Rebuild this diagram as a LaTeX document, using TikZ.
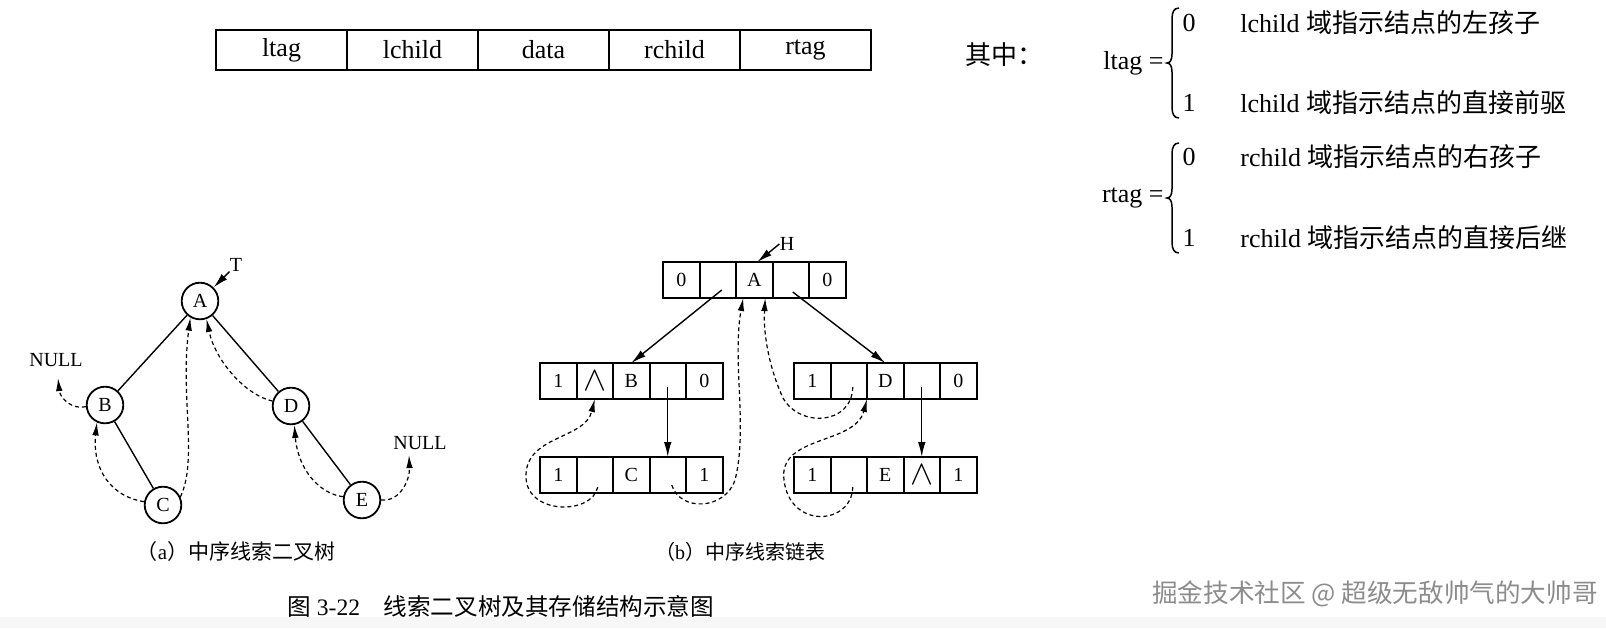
\documentclass[tikz,border=0pt]{standalone}
\usepackage{fontspec}
\usepackage{amsmath}
\setmainfont{Liberation Serif}
\newfontfamily\cjk{Noto Sans CJK SC}
\usetikzlibrary{positioning,calc}
\usetikzlibrary{arrows.meta}
\newcommand{\nullmark}{{\fontsize{17}{17}\selectfont$\wedge$}}
\tikzset{
  field/.style={draw,line width=1.2pt,outer sep=0pt,inner sep=0pt,minimum width=65.5pt,minimum height=20pt,font=\fontsize{13}{15}\selectfont},
  cell/.style={draw,line width=1pt,outer sep=0pt,inner sep=0pt,minimum width=18.25pt,minimum height=18pt,font=\fontsize{10}{12}\selectfont},
  tnode/.style={circle,draw,line width=0.9pt,minimum size=18.3pt,inner sep=0pt,font=\fontsize{10}{12}\selectfont},
  lab/.style={inner sep=0pt,font=\fontsize{10}{12}\selectfont},
  txt/.style={inner sep=0pt,font=\fontsize{13}{15}\selectfont},
  link/.style={line width=0.7pt},
  ptr/.style={line width=0.7pt,-{Latex[length=7.5pt,width=3.8pt]}},
  thread/.style={line width=0.6pt,dash pattern=on 2pt off 1.5pt,-{Latex[length=6.5pt,width=3.3pt]}},
  tagbrace/.pic={\draw[line width=0.75pt] (12,-55) .. controls (7,-55) and (5,-51) .. (5,-44) -- (5,-9)
    .. controls (5,-3) and (3,0) .. (0,0) .. controls (3,0) and (5,3) .. (5,9) -- (5,44)
    .. controls (5,51) and (7,55) .. (12,55);},
}

\begin{document}
\begin{tikzpicture}[x=0.5pt,y=-0.5pt]
\useasboundingbox (0,0) rectangle (1606,628);
\fill[black!3] (0,617) rectangle (1606,628);

% node format
\node[field] (ltag) at (281.5,50) {ltag};
\node[field,right=0pt of ltag] (lchild) {lchild};
\node[field,right=0pt of lchild] (data) {data};
\node[field,right=0pt of data] (rchild) {rchild};
\node[field,right=0pt of rchild] (rtag) {rtag};

% tag meanings
\node[txt,anchor=west] (where) at (965,55) {\cjk 其中：};
\node[txt,anchor=east] (ltageq) at (1164,63) {ltag =};
\pic at (1167,63) {tagbrace};
\node[txt] (l0) at (1189,23) {0};
\node[txt] (l1) at (1189,103) {1};
\node[txt,anchor=west] (l0txt) at (1240,23) {lchild {\cjk 域指示结点的左孩子}};
\node[txt,anchor=west] (l1txt) at (1240,103) {lchild {\cjk 域指示结点的直接前驱}};
\node[txt,anchor=east] (rtageq) at (1164,198) {rtag =};
\pic at (1167,198) {tagbrace};
\node[txt] (r0) at (1189,157) {0};
\node[txt] (r1) at (1189,238) {1};
\node[txt,anchor=west] (r0txt) at (1240,157) {rchild {\cjk 域指示结点的右孩子}};
\node[txt,anchor=west] (r1txt) at (1240,238) {rchild {\cjk 域指示结点的直接后继}};

% (a) threaded tree
\node[tnode] (A) at (200,301) {A};
\node[tnode] (B) at (105,405) {B};
\node[tnode] (D) at (291,406) {D};
\node[tnode] (C) at (163,505) {C};
\node[tnode] (E) at (362,500) {E};
\node[lab] (T) at (236,265) {T};
\node[lab] (nullL) at (56,360) {NULL};
\node[lab] (nullR) at (420,443) {NULL};
\draw[link] (A) -- (B);
\draw[link] (A) -- (D);
\draw[link] (B) -- (C);
\draw[link] (D) -- (E);
\draw[ptr] (T) -- (A);
\draw[thread] (C.25) .. controls (198,460) and (180,395) .. (A.240);
\draw[thread] (C.170) .. controls (112,497) and (92,470) .. (B.245);
\draw[thread] (D.165) .. controls (245,395) and (215,360) .. (A.290);
\draw[thread] (E.170) .. controls (320,494) and (298,470) .. (D.280);
\draw[thread] (B.185) .. controls (72,410) and (60,398) .. ([shift={(2,11)}]nullL.south);
\draw[thread] (E.east) .. controls (400,502) and (410,480) .. ([shift={(-11,5)}]nullR.south);
\node[lab,font=\fontsize{10.5}{12}\selectfont] (capa) at (236,552) {{\cjk （}a{\cjk ）中序线索二叉树}};

% (b) threaded list
\node[lab] (H) at (787,244) {H};
\foreach \t [count=\i] in {0,{},A,{},0}
  \node[cell] (h\i) at ({681.25+36.5*(\i-1)},280) {\t};
\foreach \t [count=\i] in {1,\nullmark,B,{},0}
  \node[cell] (b\i) at ({558.25+36.5*(\i-1)},381) {\t};
\foreach \t [count=\i] in {1,{},C,{},1}
  \node[cell] (c\i) at ({558.25+36.5*(\i-1)},475) {\t};
\foreach \t [count=\i] in {1,{},D,{},0}
  \node[cell] (d\i) at ({812.25+36.5*(\i-1)},381) {\t};
\foreach \t [count=\i] in {1,{},E,\nullmark,1}
  \node[cell] (e\i) at ({812.25+36.5*(\i-1)},475) {\t};
\draw[ptr] (H.west) -- ([shift={(3,0)}]h3.north);
\draw[ptr] ([shift={(4,10)}]h2.center) -- (b3.north);
\draw[ptr] ([shift={(2,12)}]h4.center) -- (d3.north);
\draw[ptr] ([shift={(0,6)}]b4.center) -- (c4.north);
\draw[ptr] ([shift={(0,6)}]d4.center) -- (e4.north);
\draw[thread] ([shift={(3,12)}]c2.center) .. controls (592,515) and (528,515) .. (526,478) .. controls (524,435) and (585,440) .. (b2.south);
\draw[thread] ([shift={(4,10)}]c4.center) .. controls (680,512) and (725,510) .. (735,480) .. controls (748,430) and (732,360) .. ([shift={(-11,0)}]h3.south);
\draw[thread] ([shift={(4,6)}]d2.center) .. controls (852,425) and (800,428) .. (783,398) .. controls (770,370) and (763,335) .. ([shift={(11,0)}]h3.south);
\draw[thread] ([shift={(4,12)}]e2.center) .. controls (852,525) and (790,530) .. (784,480) .. controls (778,435) and (855,445) .. (d3.south west);
\node[lab] (capb) at (740,552) {{\cjk （}b{\cjk ）中序线索链表}};

% captions
\node[lab,anchor=west,font=\fontsize{11.8}{14}\selectfont] (fig) at (287,606) {{\cjk 图} 3-22\hspace{1em}{\cjk 线索二叉树及其存储结构示意图}};
\node[lab,anchor=east,text=black!45,font=\fontsize{12.8}{14}\selectfont] (mark) at (1598,594) {\cjk 掘金技术社区 @ 超级无敌帅气的大帅哥};
\end{tikzpicture}
\end{document}
